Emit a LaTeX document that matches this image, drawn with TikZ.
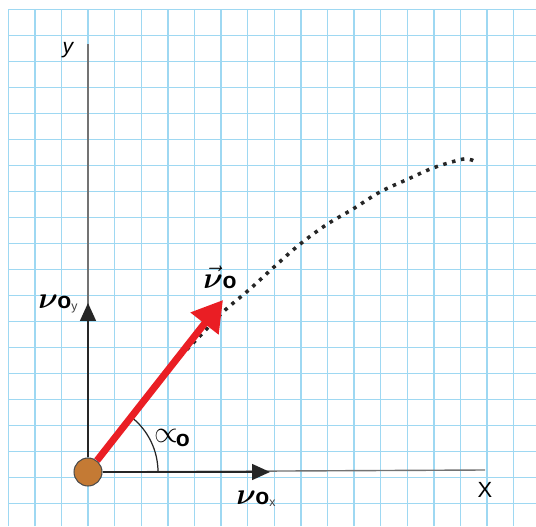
\documentclass[tikz,border=0pt]{standalone}
\usepackage{amsmath}
\usepackage{fontspec}
\setmainfont{Liberation Sans}
\usepackage{xcolor}
\usetikzlibrary{arrows.meta}
\usetikzlibrary{calc, math}
\definecolor{gridblue}{RGB}{158,216,242}
\definecolor{myred}{RGB}{234,30,36}
\definecolor{ballbrown}{RGB}{196,122,52}
\newcommand{\velsym}{{\fontsize{17}{17}\selectfont$\boldsymbol{\nu}$}}
\newcommand{\vsub}[1]{\kern-0.3pt{\fontsize{13}{13}\selectfont\bfseries o}\raisebox{-1pt}{\fontsize{7}{7}\selectfont\color{black!75}#1}}

\begin{document}
\begin{tikzpicture}[x=0.02cm,y=0.02cm,
  gridline/.style={color=gridblue,line width=0.7pt},
  axisline/.style={color=black!55,line width=0.8pt},
  comparrow/.style={color=black!85,line width=0.8pt,-{Triangle[length=0.36cm,width=0.32cm]}},
  velarrow/.style={color=myred,line width=0.14cm,-{Triangle[length=0.6cm,width=0.68cm]}},
  trajectory/.style={color=black!85,line width=2pt,dash pattern=on 2pt off 3.2pt}]
\tikzmath{
\gx=8.3;%first grid column
\gy=516.7;%first grid row
\th=52;%launch angle
}
\useasboundingbox (0,0) rectangle (536,526);
\fill[white] (0,0) rectangle (536,526);

%squared paper
\foreach \i in {0,...,19}{
 \draw[gridline] ({\gx+26.6*\i},0) -- ({\gx+26.6*\i},\gy);
 \draw[gridline] (\gx,{\gy-26*\i}) -- (536,{\gy-26*\i});
}

%ball and axis ends
\node[circle,fill=ballbrown,draw=black!70,line width=0.6pt,minimum size=0.56cm,inner sep=0pt] (ball) at (88,54) {};
\coordinate (ytop) at (88,482);
\coordinate (xend) at (485,56);
\coordinate (vytip) at (88,223);
\coordinate (vxtip) at (270,54);
\coordinate (votip) at (223,226);

%axes
\draw[axisline] (ball) -- (ytop);
\draw[axisline] (ball) -- (xend);

%trajectory
\draw[trajectory] plot[smooth,tension=0.6] coordinates {(174,163) (200,190) (223,214) (250,237) (274,259) (299,281) (326,301) (353,317) (380,334) (406,346) (433,358) (459,366) (468,367) (474,365)};

%components
\draw[comparrow] (ball) -- (vytip);
\draw[comparrow] (ball) -- (vxtip);

%angle
\draw[color=black!85,line width=0.7pt] ($(ball.center)+(70,0)$) arc[start angle=0,end angle=\th,radius=70];

%velocity
\draw[velarrow] (ball) -- (votip);

%labels
\node (ylab) at (68,476) {\fontsize{12}{12}\selectfont\itshape y};
\node (xlab) at (485,36) {\fontsize{12.5}{12.5}\selectfont X};
\node (vylab) at (58,222) {\velsym\vsub{y}};
\node (vxlab) at (256,27) {\velsym\vsub{x}};
\node (volab) at (220,248) {{\fontsize{17}{17}\selectfont$\vec{\boldsymbol{\nu}}$}\vsub{}};
\node (alab) at (172,88) {{\fontsize{17}{17}\selectfont$\propto$}\kern-1pt\raisebox{-2pt}{\fontsize{13}{13}\selectfont\bfseries o}};
\end{tikzpicture}
\end{document}
